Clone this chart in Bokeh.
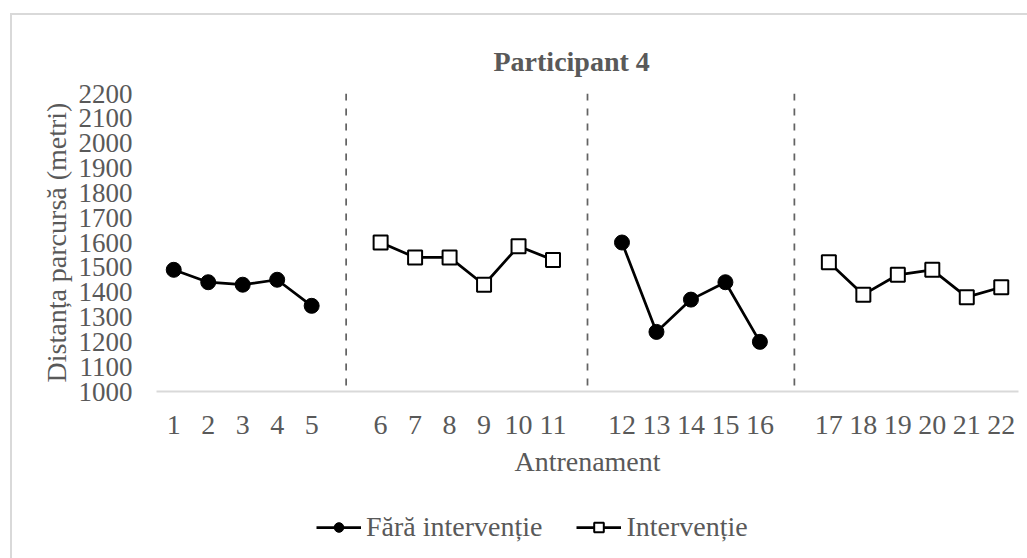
from bokeh.plotting import figure
from bokeh.layouts import column
from bokeh.models import (Legend, LegendItem, Span, FixedTicker, Title, InlineStyleSheet)
from bokeh.embed import file_html
from bokeh.resources import INLINE

# ---- data ----
phase_sessions = [
    [1, 2, 3, 4, 5],
    [6, 7, 8, 9, 10, 11],
    [12, 13, 14, 15, 16],
    [17, 18, 19, 20, 21, 22],
]
phase_values = [
    [1490, 1440, 1430, 1450, 1345],
    [1600, 1540, 1540, 1430, 1585, 1530],
    [1600, 1240, 1370, 1440, 1200],
    [1520, 1390, 1470, 1490, 1380, 1420],
]
phase_series = ["Fără intervenție", "Intervenție", "Fără intervenție", "Intervenție"]
y_ticks = list(range(1000, 2201, 100))
title_text = "Participant 4"
x_title = "Antrenament"
y_title = "Distanța parcursă (metri)"

TXT = "#595959"
FONT = "Liberation Serif"

# category slots with one empty slot between phases
phase_x = []
boundaries = []
pos = 0
for k, s in enumerate(phase_sessions):
    phase_x.append(list(range(pos, pos + len(s))))
    pos += len(s)
    if k < len(phase_sessions) - 1:
        boundaries.append(pos)
        pos += 1
n_slots = pos

border_css = InlineStyleSheet(css="""
:host { position: relative; }
:host::before {
  content: ""; position: absolute; left: 10px; top: 13px; width: 1200px; height: 800px;
  border: 2px solid #d9d9d9; box-sizing: border-box; pointer-events: none; z-index: 10;
}
""")

p = figure(width=1019, height=490, output_backend="svg", toolbar_location=None,
           x_range=(-0.5, n_slots - 0.5), y_range=(y_ticks[0], y_ticks[-1]),
           min_border_left=156, min_border_right=1, min_border_top=93, min_border_bottom=99)
p.outline_line_color = None
p.border_fill_color = None
p.xgrid.visible = False
p.ygrid.visible = False

t = Title(text=title_text, text_font=FONT, text_font_size="28px", text_font_style="bold",
          text_color=TXT, align="left", offset=337, standoff=34)
p.add_layout(t, "above")

# axes
xa = p.xaxis[0]
xa.ticker = FixedTicker(ticks=[x for xs in phase_x for x in xs])
xa.major_label_overrides = {x: str(s) for xs, ss in zip(phase_x, phase_sessions) for x, s in zip(xs, ss)}
xa.axis_line_color = "#d9d9d9"
xa.axis_line_width = 2
xa.major_tick_line_color = None
xa.minor_tick_line_color = None
xa.major_label_text_font = FONT
xa.major_label_text_font_size = "28px"
xa.major_label_text_color = TXT
xa.major_label_standoff = 18
xa.axis_label = x_title
xa.axis_label_text_font = FONT
xa.axis_label_text_font_size = "28px"
xa.axis_label_text_font_style = "normal"
xa.axis_label_text_color = TXT
xa.axis_label_standoff = 9

ya = p.yaxis[0]
ya.ticker = FixedTicker(ticks=y_ticks)
ya.axis_line_color = None
ya.major_tick_line_color = None
ya.minor_tick_line_color = None
ya.major_label_text_font = FONT
ya.major_label_text_font_size = "27px"
ya.major_label_text_color = TXT
ya.major_label_standoff = 18
ya.axis_label = y_title
ya.axis_label_text_font = FONT
ya.axis_label_text_font_size = "28px"
ya.axis_label_text_font_style = "normal"
ya.axis_label_text_color = TXT
ya.axis_label_standoff = 4

# phase separators
for b in boundaries:
    p.add_layout(Span(location=b, dimension="height", line_color="#636363",
                      line_width=1.75, line_dash="7 8"))

# data
line_style = dict(line_color="black", line_width=2.75)
marker_style = {
    "Fără intervenție": dict(marker="circle", size=15, fill_color="black", line_color="black"),
    "Intervenție": dict(marker="square", size=14, fill_color="white", line_color="black", line_width=2),
}
for xs, vs, name in zip(phase_x, phase_values, phase_series):
    p.line(xs, vs, **line_style)
    p.scatter(xs, vs, **marker_style[name])

# legend strip below the chart (its samples use the same data, out of its view)
p2 = figure(width=1019, height=60, output_backend="svg", toolbar_location=None,
            x_range=p.x_range, y_range=(0, 1), x_axis_location=None, y_axis_location=None,
            min_border=0)
p2.outline_line_color = None
p2.background_fill_color = None
p2.border_fill_color = None
p2.xgrid.visible = False
p2.ygrid.visible = False

items = []
seen = set()
for xs, vs, name in zip(phase_x, phase_values, phase_series):
    if name in seen:
        continue
    seen.add(name)
    ln = p2.line(xs, vs, **line_style)
    sc = p2.scatter(xs, vs, **marker_style[name])
    items.append(LegendItem(label=name, renderers=[ln, sc]))

leg = Legend(items=items, orientation="horizontal", location=(160, 7),
             glyph_width=45, glyph_height=24, label_standoff=5, spacing=34,
             padding=0, margin=0, border_line_color=None, background_fill_alpha=0,
             label_text_font=FONT, label_text_font_size="28px", label_text_color=TXT)
p2.add_layout(leg, "center")

layout = column(p, p2, spacing=0, stylesheets=[border_css])
open("out.html", "w").write(file_html(layout, INLINE))
